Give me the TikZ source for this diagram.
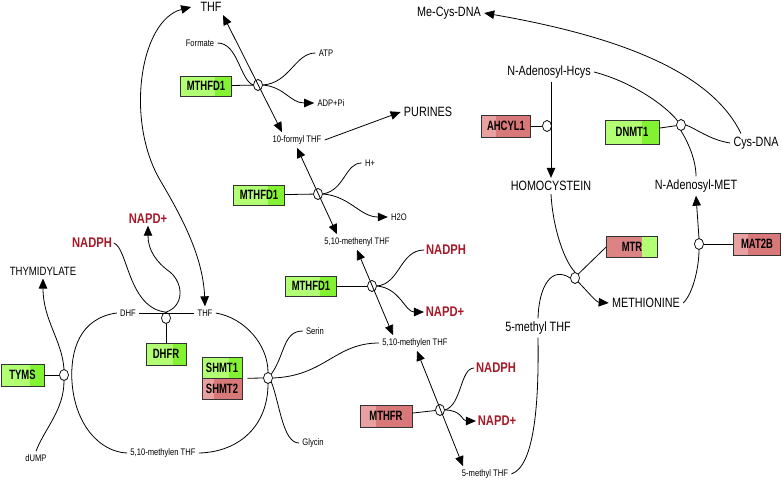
\documentclass[tikz,border=0pt]{standalone}
\usepackage{fontspec}
\usepackage{tikz}
\usetikzlibrary{arrows.meta,shapes.geometric,calc}
\newfontfamily\lblfont[FakeStretch=0.8]{Liberation Sans}
\newfontfamily\genefont[FakeStretch=0.7]{Liberation Sans}
\definecolor{glight}{RGB}{178,255,115}
\definecolor{gdark}{RGB}{130,242,50}
\definecolor{rlight}{RGB}{232,160,160}
\definecolor{rdark}{RGB}{216,120,120}
\definecolor{rmid}{RGB}{220,132,132}
\definecolor{cofred}{RGB}{165,25,40}

\begin{document}
\begin{tikzpicture}[
    x=1pt,y=-1pt,line width=.8pt,>={Triangle[length=10pt,width=8.5pt]},
    big/.style={font=\lblfont\fontsize{13.5}{15}\selectfont,inner sep=3pt},
    small/.style={font=\lblfont\fontsize{9.5}{11}\selectfont,inner sep=3pt},
    cofac/.style={font=\lblfont\bfseries\fontsize{14}{16}\selectfont,text=cofred,inner sep=1.5pt},
    rxn/.style={draw,fill=white,ellipse,inner sep=0pt,minimum width=9pt,minimum height=11pt,line width=.7pt},
    gene/.style={draw=black!80,line width=.7pt,font=\genefont\bfseries\fontsize{13.5}{15}\selectfont,
      minimum width=50pt,minimum height=21pt,inner sep=1pt},
    ggene/.style={gene,fill=glight,path picture={\fill[gdark]
      ($(path picture bounding box.north west)!.68!(path picture bounding box.north east)$)
      rectangle (path picture bounding box.south east);}},
    rgene/.style={gene,fill=rdark,path picture={\fill[rlight]
      (path picture bounding box.north west)
      rectangle ($(path picture bounding box.south west)!.3!(path picture bounding box.south east)$);}},
    mtrgene/.style={gene,fill=rmid,path picture={\fill[glight]
      ($(path picture bounding box.north west)!.69!(path picture bounding box.north east)$)
      rectangle (path picture bounding box.south east);}}
    ]
    \useasboundingbox (0,0) rectangle (782,482);

    % DHFR, TYMS, SHMT
    \node[big] (thfT) at (211,7) {THF};
    \node[small] (dhf) at (128,313) {DHF};
    \node[small] (thfB) at (205,313) {THF};
    \node[cofac] (nadph1) at (92,243) {NADPH};
    \node[cofac] (napd1) at (148,219) {NAPD+};
    \node[font=\lblfont\fontsize{12}{14}\selectfont,inner sep=3pt] (thymid) at (43,271) {THYMIDYLATE};
    \node[small] (dump) at (36,458) {dUMP};
    \node[small] (mlenB) at (163,453) {5,10-methylen THF};
    \node[small] (serin) at (315,331) {Serin};
    \node[small] (glycin) at (313,443) {Glycin};
    \node[small] (mlenR) at (415,343) {5,10-methylen THF};
    \node[rxn] (r9) at (166,318) {};
    \node[ggene,minimum width=40pt,minimum height=22pt] (dhfr) at (166,354) {DHFR};
    \node[rxn] (r10) at (64,375) {};
    \node[ggene,minimum width=43pt,minimum height=22pt] (tyms) at (22.5,375) {TYMS};
    \node[ggene,minimum width=40pt] (shmt1) at (222,367.5) {SHMT1};
    \node[rgene,minimum width=40pt] (shmt2) at (222,388.5) {SHMT2};
    \node[rxn] (r11) at (268,378) {};

    \draw[<->] ([xshift=-6]thfT.west) .. controls (140,20) and (125,120) .. (160,180)
      .. controls (180,214) and (203,255) .. (thfB.north);
    \draw (dhf.east) -- (thfB.west);
    \draw (nadph1.east) .. controls (128,248) and (128,308) .. (r9.north);
    \draw[->] (r9.north) .. controls (184,306) and (184,284) .. (170,272)
      .. controls (156,262) and (148,250) .. (napd1.south);
    \draw (r9) -- (dhfr);
    \draw (dhf.west) .. controls (80,318) and (70,350) .. (72,382)
      .. controls (75,425) and (100,452) .. (mlenB.west);
    \draw (thfB.east) .. controls (245,318) and (268,345) .. (r11.north);
    \draw (r11.south) .. controls (268,425) and (240,452) .. (mlenB.east);
    \draw (tyms) -- (r10);
    \draw[->] (r10.north) .. controls (62,340) and (43,320) .. (thymid.south);
    \draw (dump.north) .. controls (45,428) and (64,410) .. (r10.south);
    \draw[shorten <=5pt] (shmt1.south east) -- (r11.west);
    \draw (r11.north east) .. controls (285,355) and (283,331) .. (serin.west);
    \draw (r11.south east) .. controls (280,405) and (283,443) .. (glycin.west);
    \draw (r11.east) .. controls (325,376) and (335,343) .. (mlenR.west);

    % MTHFD1, MTHFR
    \node[small] (formate) at (200,43) {Formate};
    \node[ggene,minimum width=51pt,minimum height=20pt] (mthfda) at (206,86) {MTHFD1};
    \node[rxn] (r1) at (258,85) {};
    \node[small] (atp) at (326,53) {ATP};
    \node[small] (adp) at (331,103) {ADP+Pi};
    \node[small] (formyl) at (297,140) {10-formyl THF};
    \node[big] (purines) at (428,112) {PURINES};
    \node[ggene,minimum width=51pt,minimum height=20pt] (mthfdb) at (259,195) {MTHFD1};
    \node[rxn] (r2) at (318,194) {};
    \node[small] (hplus) at (370,163) {H+};
    \node[small] (h2o) at (399,217) {H2O};
    \node[small] (menyl) at (357,242) {5,10-methenyl THF};
    \node[ggene,minimum width=51pt,minimum height=20pt] (mthfdc) at (311,286) {MTHFD1};
    \node[rxn] (r3) at (372,286) {};
    \node[cofac] (nadph2) at (446,250) {NADPH};
    \node[cofac] (napd2) at (445,312) {NAPD+};
    \node[rgene,minimum width=52pt,minimum height=22pt] (mthfr) at (386,416) {MTHFR};
    \node[rxn] (r4) at (440,410) {};
    \node[cofac] (nadph3) at (496,368) {NADPH};
    \node[cofac] (napd3) at (497,421) {NAPD+};
    \node[small] (mthfS) at (485,474) {5-methyl THF};

    \draw[<->] ([xshift=12]thfT.south) -- ([xshift=-15]formyl.north);
    \draw (mthfda) -- (r1);
    \draw (formate.east) .. controls (238,43) and (240,80) .. (r1.west);
    \draw (r1.east) .. controls (290,83) and (295,53) .. (atp.west);
    \draw[->] (r1.east) .. controls (285,87) and (290,103) .. (adp.west);
    \draw[->] (formyl.east) -- (purines.west);
    \draw[<->] (formyl.south) -- ([xshift=-20]menyl.north);
    \draw (mthfdb) -- (r2);
    \draw (r2.east) .. controls (345,190) and (345,163) .. (hplus.west);
    \draw[->] (r2.east) .. controls (350,196) and (360,217) .. (h2o.west);
    \draw[<->] (menyl.south) -- ([xshift=-22]mlenR.north);
    \draw (mthfdc) -- (r3);
    \draw (r3.east) .. controls (400,284) and (400,250) .. (nadph2.west);
    \draw[->] (r3.east) .. controls (400,288) and (405,312) .. (napd2.west);
    \draw[<->] ([xshift=2]mlenR.south) -- ([xshift=-22]mthfS.north);
    \draw (mthfr) -- (r4);
    \draw (r4.east) .. controls (462,405) and (460,368) .. (nadph3.west);
    \draw[->] (r4.east) .. controls (462,410) and (462,421) .. (napd3.west);

    % methionine cycle
    \node[big] (mthfB) at (538,328) {5-methyl THF};
    \node[big] (hcy) at (551,186) {HOMOCYSTEIN};
    \node[rxn] (r5) at (575,278) {};
    \node[mtrgene,minimum width=51pt] (mtr) at (632,247) {MTR};
    \node[big] (met) at (646,303) {METHIONINE};
    \node[big] (sam) at (696,186) {N-Adenosyl-MET};
    \node[rxn] (r6) at (699,244) {};
    \node[rgene,minimum width=47pt,minimum height=22pt] (mat2b) at (757,244) {MAT2B};
    \node[big] (sah) at (549,72) {N-Adenosyl-Hcys};
    \node[big] (cysdna) at (756,143) {Cys-DNA};
    \node[big] (mecys) at (449,13) {Me-Cys-DNA};
    \node[rxn] (r7) at (681,125) {};
    \node[ggene,minimum width=54pt,minimum height=24pt] (dnmt1) at (632,132) {DNMT1};
    \node[rgene,minimum width=49pt,minimum height=22pt] (ahcyl1) at (506,126) {AHCYL1};
    \node[rxn] (r8) at (547,126) {};

    \draw (mthfS.east) .. controls (535,466) and (539,400) .. (mthfB.south);
    \draw (mthfB.north) .. controls (539,285) and (552,266) .. (r5.west);
    \draw (hcy.south) .. controls (553,230) and (565,262) .. (r5.north);
    \draw[->] (r5.south east) .. controls (588,292) and (596,302) .. (met.west);
    \draw (r5.north east) -- (mtr.west);
    \draw (met.east) .. controls (694,292) and (699,265) .. (r6.south);
    \draw[->] (r6.north) -- (sam.south);
    \draw (r6) -- (mat2b);
    \draw (sah.east) .. controls (632,82) and (665,105) .. (r7.north west);
    \draw (r7.south) .. controls (688,142) and (696,160) .. (sam.north);
    \draw (cysdna.west) .. controls (710,140) and (695,128) .. (r7.east);
    \draw[->] ([xshift=-15]cysdna.north) .. controls (715,80) and (640,40) .. (mecys.east);
    \draw (dnmt1) -- (r7);
    \draw (ahcyl1) -- (r8);
    \draw[->] ([xshift=2]sah.south) -- (hcy.north);
  \end{tikzpicture}
\end{document}
